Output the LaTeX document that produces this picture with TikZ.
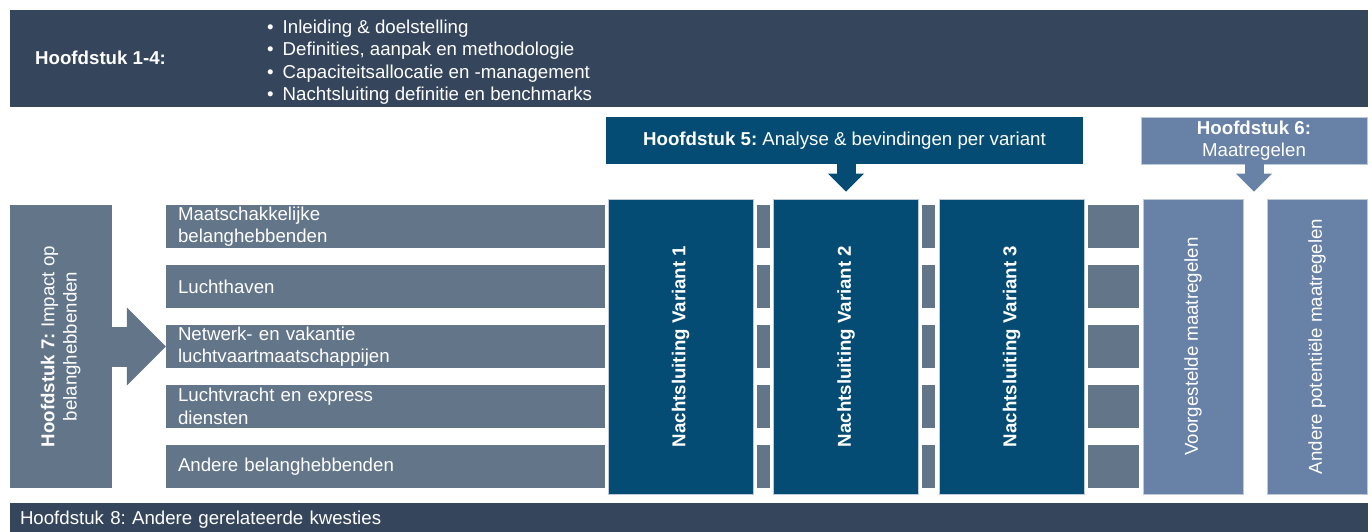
\documentclass[tikz,border=0pt]{standalone}
\usepackage{fontspec}
\setmainfont{Liberation Sans}
\usepackage{graphicx}
\usepackage{tikz}
\usetikzlibrary{arrows.meta}
\definecolor{slate}{HTML}{35465C}
\definecolor{greyblue}{HTML}{637589}
\definecolor{navy}{HTML}{054C75}
\definecolor{steel}{HTML}{6882A7}
\definecolor{rim}{HTML}{BCC9D6}
\frenchspacing

\begin{document}
\begin{tikzpicture}[x=1pt, y=-1pt,
    every node/.style={text=white, inner sep=0pt, font=\fontsize{18.67pt}{22.4pt}\selectfont},
    band/.style={fill=slate, minimum width=1358pt},
    row/.style={fill=greyblue, minimum height=43pt, text width=415pt, inner xsep=12pt, align=left},
    col/.style={fill=navy, draw=rim, line width=0.7pt, minimum width=145pt, minimum height=295pt},
    meas/.style={fill=steel, draw=rim, line width=0.7pt, minimum width=100pt, minimum height=295pt},
    link/.style={draw=greyblue, line width=43pt, shorten <=3.5pt, shorten >=3.5pt},
    blockdown/.style={line width=19pt, shorten >=7pt, -{Triangle[width=36pt, length=18pt, line width=0pt]}},
    blockright/.style={line width=40pt, -{Triangle[width=78pt, length=39pt, line width=0pt]}}]
    \useasboundingbox (0,0) rectangle (1372,532);

    % chapters 1-4
    \node[band, minimum height=97pt] at (689,58.5) (h14) {};
    \node[anchor=west] at (35,58) (t14) {\textbf{Hoofdstuk 1-4:}};
    \node[anchor=west, align=left] at (267,62) (list) {%
        •\hspace{9pt}Inleiding \& doelstelling\\
        •\hspace{9pt}Definities, aanpak en methodologie\\
        •\hspace{9pt}Capaciteitsallocatie en -management\\
        •\hspace{9pt}Nachtsluiting definitie en benchmarks};

    % chapters 5 and 6
    \node[fill=navy, minimum width=477pt, minimum height=47pt] at (844.5,140.5) (h5) {\textbf{Hoofdstuk 5:} Analyse \& bevindingen per variant};
    \node[fill=steel, draw=rim, line width=0.5pt, minimum width=226pt, minimum height=47pt, align=center] at (1254,140.5) (h6) {\textbf{Hoofdstuk 6:}\\Maatregelen};

    % chapter 7
    \node[fill=greyblue, minimum width=102pt, minimum height=283pt] at (61,346.5) (h7) {\rotatebox{90}{\begin{tabular}{@{}c@{}}\textbf{Hoofdstuk 7:} Impact op\\belanghebbenden\end{tabular}}};

    \node[row] at (385.5,226.5) (s1) {Maatschakkelijke\\belanghebbenden};
    \node[row] at (385.5,286.5) (s2) {Luchthaven};
    \node[row] at (385.5,346.5) (s3) {Netwerk- en vakantie\\luchtvaartmaatschappijen};
    \node[row] at (385.5,406.5) (s4) {Luchtvracht en express\\diensten};
    \node[row] at (385.5,466.5) (s5) {Andere belanghebbenden};

    \node[col] at (680.5,346.5) (v1) {\rotatebox{90}{\bfseries Nachtsluiting Variant 1}};
    \node[col] at (846,346.5) (v2) {\rotatebox{90}{\bfseries Nachtsluiting Variant 2}};
    \node[col] at (1011.5,346.5) (v3) {\rotatebox{90}{\bfseries Nachtsluiting Variant 3}};

    \node[meas] at (1193,346.5) (m1) {\rotatebox{90}{Voorgestelde maatregelen}};
    \node[meas] at (1317,346.5) (m2) {\rotatebox{90}{Andere potentiële maatregelen}};

    % chapter 8
    \node[band, minimum height=34pt, text width=1338pt, inner xsep=10pt, align=left] at (689,520) (h8) {Hoofdstuk 8: Andere gerelateerde kwesties};

    \draw[blockdown, navy] (h5.south -| v2.north) -- (v2.north);
    \draw[blockdown, steel] (h6.south) -- (h6.south |- m1.north);
    \draw[blockright, greyblue] (h7.east |- s3.west) -- (s3.west);

    \draw[link] (v1.east |- s1) -- (v2.west |- s1);
    \draw[link] (v1.east |- s2) -- (v2.west |- s2);
    \draw[link] (v1.east |- s3) -- (v2.west |- s3);
    \draw[link] (v1.east |- s4) -- (v2.west |- s4);
    \draw[link] (v1.east |- s5) -- (v2.west |- s5);
    \draw[link] (v2.east |- s1) -- (v3.west |- s1);
    \draw[link] (v2.east |- s2) -- (v3.west |- s2);
    \draw[link] (v2.east |- s3) -- (v3.west |- s3);
    \draw[link] (v2.east |- s4) -- (v3.west |- s4);
    \draw[link] (v2.east |- s5) -- (v3.west |- s5);
    \draw[link] (v3.east |- s1) -- (m1.west |- s1);
    \draw[link] (v3.east |- s2) -- (m1.west |- s2);
    \draw[link] (v3.east |- s3) -- (m1.west |- s3);
    \draw[link] (v3.east |- s4) -- (m1.west |- s4);
    \draw[link] (v3.east |- s5) -- (m1.west |- s5);
\end{tikzpicture}
\end{document}
